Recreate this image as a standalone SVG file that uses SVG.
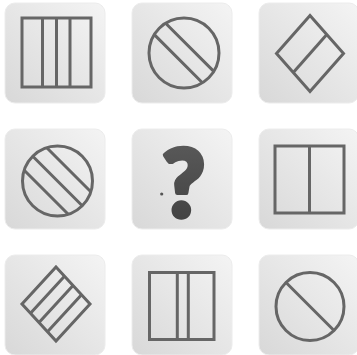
<svg xmlns="http://www.w3.org/2000/svg" width="357" height="355" viewBox="0 0 357 355">
<defs>
<linearGradient id="tileG" x1="1" y1="0" x2="0" y2="1">
<stop offset="0" stop-color="#f4f4f4"/>
<stop offset="1" stop-color="#d8d8d8"/>
</linearGradient>
<linearGradient id="qG" x1="0" y1="0" x2="0" y2="1">
<stop offset="0" stop-color="#5e5e5e"/>
<stop offset="1" stop-color="#3e3e3e"/>
</linearGradient>
<style>
.tile{fill:url(#tileG);stroke:#ececec;stroke-width:1}
.sh{fill:none;stroke:#666;stroke-width:3;stroke-linejoin:miter}
.q{font-family:Lato,"DejaVu Sans",sans-serif;font-weight:900;fill:url(#qG);stroke:url(#qG);stroke-width:4.5;stroke-linejoin:round}
</style>
</defs>
<rect width="357" height="355" fill="#ffffff"/>
<g id="tile-r1c1">
<rect class="tile" x="5" y="3" width="100" height="100" rx="10"/>
<rect class="sh" x="22" y="18" width="69" height="69"/>
<path class="sh" d="M42.5 18V87M56.5 18V87M70 18V87"/>
</g>
<g id="tile-r1c2">
<rect class="tile" x="132" y="3" width="100" height="100" rx="10"/>
<circle class="sh" cx="184" cy="53" r="35"/>
<path class="sh" d="M165.6 23.3L213.8 71.4M154.3 34.6L202.4 82.8"/>
</g>
<g id="tile-r1c3">
<rect class="tile" x="259" y="3" width="100" height="100" rx="10"/>
<path class="sh" d="M310 15.5L343.5 53.5L310 91.5L276.5 53.5Z"/>
<path class="sh" d="M326.8 34.5L293.3 72.5"/>
</g>
<g id="tile-r2c1">
<rect class="tile" x="5" y="129" width="100" height="100" rx="10"/>
<circle class="sh" cx="57.5" cy="181" r="35"/>
<path class="sh" d="M46.8 147.7L90.8 191.7M32.75 156.25L82.25 205.75M24.2 170.3L68.2 214.3"/>
</g>
<g id="tile-r2c2">
<rect class="tile" x="132" y="129" width="100" height="100" rx="10"/>
<text class="q" x="183.5" y="217" font-size="93" text-anchor="middle">?</text>
<circle cx="161.7" cy="194" r="1.6" fill="#555"/>
</g>
<g id="tile-r2c3">
<rect class="tile" x="259" y="129" width="100" height="100" rx="10"/>
<rect class="sh" x="275" y="146" width="69" height="67"/>
<path class="sh" d="M309.5 146V213"/>
</g>
<g id="tile-r3c1">
<rect class="tile" x="5" y="255" width="100" height="100" rx="10"/>
<path class="sh" d="M56 267L90 304L56 341L22 304Z"/>
<path class="sh" d="M64.5 276.25L30.5 313.25M73 285.5L39 322.5M81.5 294.75L47.5 331.75"/>
</g>
<g id="tile-r3c2">
<rect class="tile" x="132" y="255" width="100" height="100" rx="10"/>
<rect class="sh" x="149.5" y="272.5" width="64.5" height="67"/>
<path class="sh" d="M177.3 272.5V339.5M188.3 272.5V339.5"/>
</g>
<g id="tile-r3c3">
<rect class="tile" x="259" y="255" width="100" height="100" rx="10"/>
<circle class="sh" cx="310" cy="306.5" r="34"/>
<path class="sh" d="M286 282.5L334 330.5"/>
</g>
</svg>
